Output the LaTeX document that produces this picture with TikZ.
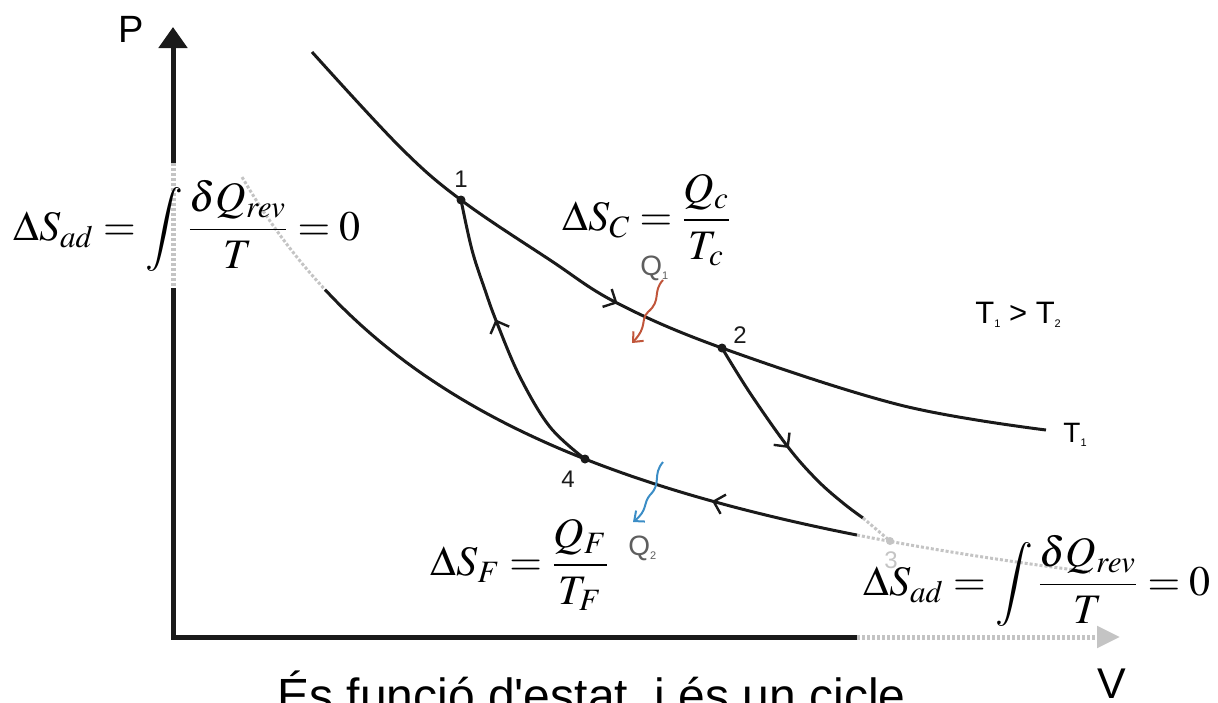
\documentclass[tikz,border=0pt]{standalone}
\usepackage{mathptmx}
\usepackage[no-math]{fontspec}
\newfontfamily\arial{Liberation Sans}
\usetikzlibrary{arrows.meta,decorations.markings}
\definecolor{ink}{HTML}{1A1A1A}
\definecolor{veil}{HTML}{C4C4C4}
\definecolor{mute}{HTML}{5E5E5E}
\definecolor{heat}{HTML}{C0553A}
\definecolor{chill}{HTML}{3B8DC6}
\newcommand{\sublab}[2]{#1\raisebox{-0.3ex}{\fontsize{5.5}{6}\selectfont #2}}

\begin{document}
\begin{tikzpicture}[x=0.5pt,y=-0.5pt,
 axis/.style={line width=2.5pt,draw=ink},
 curve/.style={line width=1.5pt,draw=ink},
 veiled/.style={line width=1.5pt,draw=veil,densely dotted},
 dot/.style={circle,fill=ink,inner sep=0pt,minimum size=4.5pt},
 num/.style={font=\arial\fontsize{12}{13}\selectfont,text=ink,inner sep=0pt,anchor=base},
 formula/.style={inner sep=0pt,font=\fontsize{21}{25}\selectfont},
 flowmark/.style={postaction={decorate,decoration={markings,mark=at position #1 with {\arrow{Straight Barb[length=5pt,width=10pt,line width=1.2pt]}}}}},
 backmark/.style={postaction={decorate,decoration={markings,mark=at position #1 with {\arrowreversed{Straight Barb[length=5pt,width=10pt,line width=1.2pt]}}}}},
 wave/.style={line width=1pt,-{Straight Barb[length=4pt,width=7pt]}}]
\useasboundingbox (0,0) rectangle (1218,702);
\clip (0,0) rectangle (1218,702);
\coordinate (o) at (173,637);
\coordinate (ptop) at (173,27);
\coordinate (cutA) at (173,163);
\coordinate (cutB) at (173,288);
\coordinate (vcut) at (857,637);
\coordinate (vend) at (1120,637);
\coordinate (p1) at (461,200);
\coordinate (p2) at (722,348);
\coordinate (p3) at (890,541);
\coordinate (p4) at (585,459);
\draw[axis,-{Triangle[length=10.5pt,width=14pt]}] (cutA) -- (ptop);
\draw[veiled,line width=2.5pt] (cutA) -- (cutB);
\draw[axis] (cutB) -- (o) -- (vcut);
\draw[veiled,line width=2.5pt,-{Triangle[length=11.5pt,width=10.5pt]}] (vcut) -- (vend);
\draw[curve,flowmark=0.47] plot[smooth,tension=0.6] coordinates {(312,52) (400,147) (p1) (550,260) (617,303) (p2) (900,405) (1046,430)};
\draw[veiled] plot[domain=242:325,samples=12] (\x,{719.4-171.766/((\x+74.7)/1000)});
\draw[curve,backmark=0.75] plot[domain=325:857,samples=60] (\x,{719.4-171.766/((\x+74.7)/1000)});
\draw[veiled] plot[domain=857:1090,samples=20] (\x,{719.4-171.766/((\x+74.7)/1000)});
\draw[curve,flowmark=0.54] plot[smooth,tension=0.6] coordinates {(p2) (750,393) (788,447) (817,480) (843,503) (863,518)};
\draw[veiled] (863,518) -- (p3);
\draw[curve,flowmark=0.575] plot[smooth,tension=0.6] coordinates {(p4) (550,427) (520,377) (497,323) (485,290) (472,250) (p1)};
\node[dot] (d1) at (p1) {};
\node[dot] (d2) at (p2) {};
\node[dot] (d4) at (p4) {};
\node[circle,fill=veil,inner sep=0pt,minimum size=4pt] (d3) at (p3) {};
\node[num] (n1) at (461,187) {1};
\node[num] (n2) at (740,343) {2};
\node[num] (n4) at (568,487) {4};
\node[num,text=veil] (n3) at (891,568) {3};
\coordinate (q1a) at (663,280);
\coordinate (q1b) at (632,343);
\coordinate (q2a) at (663,462);
\coordinate (q2b) at (633,522);
\draw[wave,heat] (q1a) .. controls (652,292) and (662,300) .. (648,312) .. controls (640,320) and (648,326) .. (q1b);
\draw[wave,chill] (q2a) .. controls (652,475) and (662,483) .. (650,495) .. controls (643,503) and (648,510) .. (q2b);
\node[anchor=base west,inner sep=0pt,text=mute,font=\arial\fontsize{14}{16}\selectfont] (q1) at (640,275) {\sublab{Q}{1}};
\node[anchor=base west,inner sep=0pt,text=mute,font=\arial\fontsize{14}{16}\selectfont] (q2) at (628,555) {\sublab{Q}{2}};
\node[anchor=base,inner sep=0pt,font=\arial\fontsize{19}{22}\selectfont] (pl) at (131,42) {P};
\node[anchor=base,inner sep=0pt,font=\arial\fontsize{21.5}{24}\selectfont] (vl) at (1112,698) {V};
\node[anchor=base west,inner sep=0pt,font=\arial\fontsize{15.5}{18}\selectfont] (order) at (975,323) {\sublab{T}{1} > \sublab{T}{2}};
\node[anchor=base west,inner sep=0pt,font=\arial\fontsize{14}{16}\selectfont] (t1) at (1063,442) {\sublab{T}{1}};
\node[formula] (adL) at (187,226) {$\displaystyle\Delta S_{ad}=\int\frac{\delta Q_{rev}}{T}=0$};
\node[formula] (adR) at (1037,581) {$\displaystyle\Delta S_{ad}=\int\frac{\delta Q_{rev}}{T}=0$};
\node[formula] (sc) at (647,220) {$\displaystyle\Delta S_{C}=\frac{Q_{c}}{T_{c}}$};
\node[formula] (sf) at (520,565) {$\displaystyle\Delta S_{F}=\frac{Q_{F}}{T_{F}}$};
\node[anchor=base west,inner sep=0pt,font=\arial\fontsize{24}{28}\selectfont] (caption) at (277,712) {És funció d\textquotesingle estat, i és un cicle};
\end{tikzpicture}
\end{document}
